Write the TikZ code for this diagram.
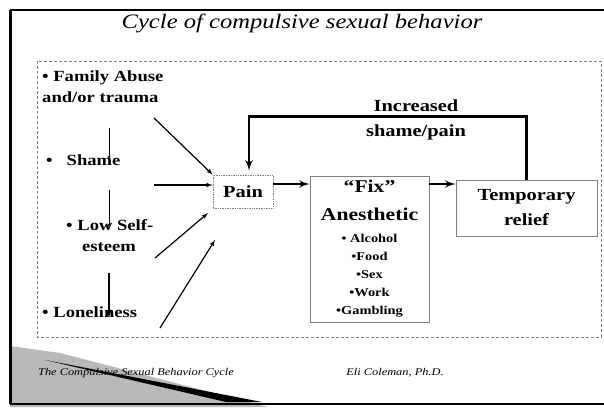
\documentclass[tikz,border=0pt]{standalone}
\usepackage{fontspec}
\setmainfont{Liberation Serif}[FakeStretch=1.2]
\usetikzlibrary{arrows,positioning,calc}

\begin{document}
\begin{tikzpicture}[x=1pt, y=-1pt,
    block/.style={rectangle, draw=gray, line width=0.7pt, inner sep=0pt, align=center},
    dotblock/.style={block, densely dotted},
    cause/.style={anchor=west, inner sep=0pt, align=left, font=\fontsize{15.5}{21}\selectfont\bfseries},
    big/.style={align=center, font=\fontsize{17}{25}\selectfont\bfseries},
    line/.style={draw, -latex', line width=1.2pt},
    thinline/.style={draw, -latex', line width=0.5pt},
    bigline/.style={draw, -latex', line width=2.6pt}
]
\useasboundingbox (0,0) rectangle (604,407);

% Frame
\fill[gray!55] (10,346) -- (60,353) -- (268,407) -- (10,407) -- cycle;
\fill[black] (45,360) -- (262,402) -- (226,402) -- cycle;
\draw[line width=3pt] (10,10) -- (10,404);
\draw[line width=1.2pt] (10,10) -- (604,10);
\draw[line width=2pt] (10,404) -- (604,404);
\draw[gray, densely dashed, line width=0.6pt] (37,61) rectangle (601,337);

% Title and footer
\node (title) at (302,23) {\fontsize{20.5}{22}\selectfont\itshape Cycle of compulsive sexual behavior};
\node (footl) at (136,373) {\fontsize{10.3}{11}\selectfont\itshape The Compulsive Sexual Behavior Cycle};
\node (footr) at (395,373) {\fontsize{10.3}{11}\selectfont\itshape Eli Coleman, Ph.D.};

% Causes
\node[cause] (abuse) at (42,87) {• Family Abuse\\and/or trauma};
\node[cause] (shame) at (46,160) {•\hspace{14pt}Shame};
\node[cause] (esteem) at (66,236) {• Low Self-\\\hspace{16pt}esteem};
\node[cause] (lonely) at (42,312) {• Loneliness};

% Cycle
\node[dotblock, big, minimum width=60, minimum height=33] (pain) at (243,191.5) {Pain};
\node[block, minimum width=119, minimum height=146, font=\fontsize{12}{18}\selectfont\bfseries] (fix) at (369.5,249)
  {{\fontsize{18}{18}\selectfont “Fix”}\\[10pt]
   {\fontsize{18}{18}\selectfont Anesthetic}\\[4pt]
   • Alcohol\\•Food\\•Sex\\•Work\\•Gambling};
\node[block, big, minimum width=141, minimum height=56] (temp) at (526.5,208) {Temporary\\relief};
\node[big] (label) at (416,120) {Increased\\shame/pain};

% Coordinates
\coordinate (row) at (0,184);
\coordinate (a1) at (154,118);
\coordinate (a2) at (154,185);
\coordinate (a3) at (155,258);
\coordinate (a3e) at (208,213);
\coordinate (a4) at (160,328);
\coordinate (a4e) at (215,240);
\coordinate (v1) at (109,128);
\coordinate (v1e) at (109,160);
\coordinate (v2) at (109,190);
\coordinate (v2e) at (109,228);
\coordinate (v3) at (109,273);
\coordinate (v3e) at (109,318);

% Lines
\draw[line] (a1) -- (pain.north west);
\draw[line] (a2) -- (a2 -| pain.west);
\draw[line] (a3) -- (a3e);
\draw[line] (a4) -- (a4e);
\draw[thinline] (v1) -- (v1e);
\draw[thinline] (v2) -- (v2e);
\draw[line, line width=1.8pt] (v3) -- (v3e);
\draw[bigline] (pain.east |- row) -- (fix.west |- row);
\draw[bigline] (fix.east |- row) -- (temp.west |- row);
\draw[bigline] (temp.north) |- ($(pain.north)+(6,-58)$) -- ([xshift=6pt, yshift=4pt]pain.north);

\end{tikzpicture}
\end{document}
